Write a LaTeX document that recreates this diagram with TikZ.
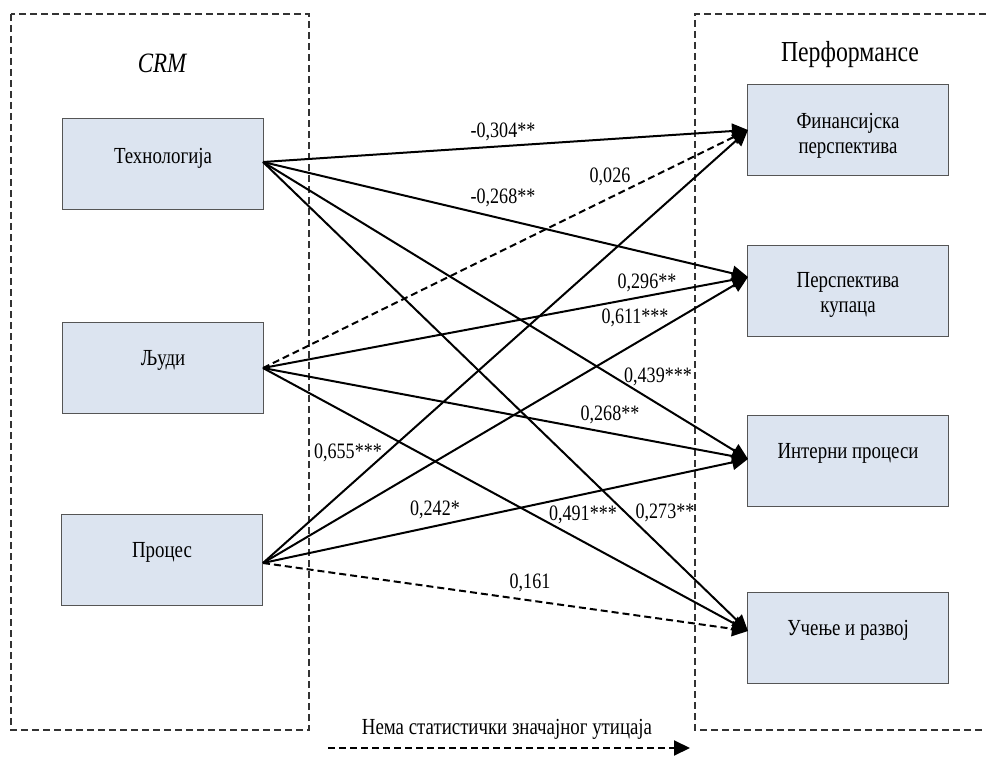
\documentclass[tikz,border=0pt]{standalone}
\usepackage{fontspec}
\setmainfont{Liberation Serif}[FakeStretch=0.82]
\usetikzlibrary{arrows.meta}
\definecolor{boxfill}{HTML}{DCE4F0}
\definecolor{boxline}{HTML}{555555}
\tikzset{
  frame/.style={line width=1.8pt, dash pattern=on 7pt off 4pt, color=black!80},
  cbox/.style={draw=boxline, fill=boxfill, line width=1.6pt, minimum width=201pt, minimum height=91pt, inner sep=0pt},
  lbl/.style={font=\fontsize{23}{25}\selectfont, inner sep=0pt},
  coef/.style={font=\fontsize{22}{24}\selectfont, inner sep=0pt},
  link/.style={line width=2pt, -{Triangle[length=16pt,width=15pt]}},
  nolink/.style={link, dash pattern=on 7pt off 4pt}
}
\begin{document}
\begin{tikzpicture}[x=1pt,y=-1pt]
\useasboundingbox (0,0) rectangle (986,757);
% dashed frames
\draw[frame] (11,14) rectangle (309,730);
\draw[frame] (986,14) -- (695,14) -- (695,730) -- (986,730);
% titles
\node[font=\fontsize{28}{30}\selectfont\itshape, inner sep=0pt] (crm) at (162,63) {CRM};
\node[font=\fontsize{29}{31}\selectfont, inner sep=0pt] (perf) at (850,55) {Перформансе};
% left boxes
\node[cbox] (tech) at (163,164) {};
\node[lbl] (techT) at (163,158) {Технологија};
\node[cbox] (ljud) at (163,368) {};
\node[lbl] (ljudT) at (163,360) {Људи};
\node[cbox] (proc) at (162,560) {};
\node[lbl] (procT) at (162,552) {Процес};
% right boxes
\node[cbox] (fin) at (848,130) {};
\node[lbl, align=center] (finT) at (848,136) {Финансијска\\перспектива};
\node[cbox] (kup) at (848,291) {};
\node[lbl, align=center] (kupT) at (848,295) {Перспектива\\купаца};
\node[cbox] (int) at (848,461) {};
\node[lbl] (intT) at (848,453) {Интерни процеси};
\node[cbox] (uce) at (848,638) {};
\node[lbl] (uceT) at (848,630) {Учење и развој};
% connector ends
\coordinate (tO) at (263,162);
\coordinate (lO) at (263,368);
\coordinate (pO) at (263,563);
\coordinate (finI) at (748,130);
\coordinate (kupI) at (748,277);
\coordinate (intI) at (748,459);
\coordinate (uceI) at (748,631);
% connectors
\draw[link] (tO) -- (finI);
\draw[link] (tO) -- (kupI);
\draw[link] (tO) -- (intI);
\draw[link] (tO) -- (uceI);
\draw[nolink] (lO) -- (finI);
\draw[link] (lO) -- (kupI);
\draw[link] (lO) -- (intI);
\draw[link] (lO) -- (uceI);
\draw[link] (pO) -- (finI);
\draw[link] (pO) -- (kupI);
\draw[link] (pO) -- (intI);
\draw[nolink] (pO) -- (uceI);
% coefficients
\node[coef] (c1) at (503,132) {-0,304**};
\node[coef] (c2) at (610,177) {0,026};
\node[coef] (c3) at (503,198) {-0,268**};
\node[coef] (c4) at (647,283) {0,296**};
\node[coef] (c5) at (635,318) {0,611***};
\node[coef] (c6) at (658,377) {0,439***};
\node[coef] (c7) at (610,415) {0,268**};
\node[coef] (c8) at (348,453) {0,655***};
\node[coef] (c9) at (435,510) {0,242*};
\node[coef] (c10) at (583,515) {0,491***};
\node[coef] (c11) at (665,513) {0,273**};
\node[coef] (c12) at (530,583) {0,161};
% legend
\node[font=\fontsize{23}{25}\selectfont, inner sep=0pt] (leg) at (507,729) {Нема статистички значајног утицаја};
\coordinate (legA) at (328,748);
\coordinate (legB) at (690,748);
\draw[nolink] (legA) -- (legB);
\end{tikzpicture}
\end{document}
